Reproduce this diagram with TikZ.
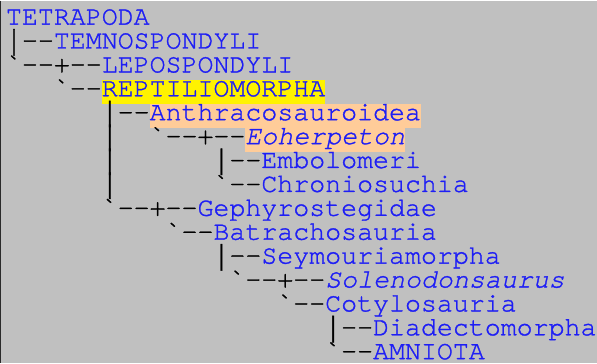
\documentclass[tikz,border=0pt]{standalone}
\usepackage{graphicx}
\usepackage{fontspec}
\setmonofont{texgyrecursor}[Extension=.otf, UprightFont=*-regular, ItalicFont=*-italic, FakeBold=1.2]
\definecolor{bgc}{HTML}{C0C0C0}
\definecolor{bordc}{HTML}{2A2A2A}
\definecolor{labblue}{RGB}{30,30,245}
\definecolor{peach}{HTML}{FFCC99}
\begin{document}
\begin{tikzpicture}[
  every node/.style={inner sep=0pt, outer sep=0pt, anchor=base west,
    font=\ttfamily\fontsize{26.6}{24}\selectfont},
  conn/.style={text=black},
  vb/.style={text=black, anchor=south, yshift=-7pt},
  lab/.style={text=labblue},
  hl/.style={lab, text height=16pt, text depth=7.5pt},
  ital/.style={font=\ttfamily\itshape\fontsize{26.6}{24}\selectfont}
]
\newcommand\vbar{\resizebox*{!}{26.4pt}{|}}
\fill[bgc] (0pt,0pt) rectangle (597pt,-362pt);
\draw[bordc, line width=1.2pt] (0.6pt,0pt) -- (0.6pt,-362pt);
\useasboundingbox (0pt,0pt) rectangle (597pt,-362pt);
\begin{scope}[shift={(6pt,-24pt)}, x=15.96pt, y=-23.9pt]
% line 0
\node[lab] (tetrapoda) at (0,0) {TETRAPODA};
% line 1
\node[vb] (b1) at (0.5,1) {\vbar};
\node[conn] (c1) at (1,1) {--};
\node[lab] (temno) at (3,1) {TEMNOSPONDYLI};
% line 2
\node[conn] (c2) at (0,2) {`--+--};
\node[lab] (lepo) at (6,2) {LEPOSPONDYLI};
% line 3
\node[conn] (c3) at (3,3) {`--};
\node[hl, fill=yellow] (reptilio) at (6,3) {REPTILIOMORPHA};
% line 4
\node[vb] (b4) at (6.5,4) {\vbar};
\node[conn] (c4) at (7,4) {--};
\node[hl, fill=peach] (anthraco) at (9,4) {Anthracosauroidea};
% line 5
\node[vb] (b5) at (6.5,5) {\vbar};
\node[conn] (c5) at (9,5) {`--+--};
\node[hl, ital, fill=peach] (eoherp) at (15,5) {Eoherpeton};
% line 6
\node[vb] (b6a) at (6.5,6) {\vbar};
\node[vb] (b6b) at (13.5,6) {\vbar};
\node[conn] (c6) at (14,6) {--};
\node[lab] (embolo) at (16,6) {Embolomeri};
% line 7
\node[vb] (b7) at (6.5,7) {\vbar};
\node[conn] (c7) at (13,7) {`--};
\node[lab] (chronio) at (16,7) {Chroniosuchia};
% line 8
\node[conn] (c8) at (6,8) {`--+--};
\node[lab] (gephyro) at (12,8) {Gephyrostegidae};
% line 9
\node[conn] (c9) at (10,9) {`--};
\node[lab] (batracho) at (13,9) {Batrachosauria};
% line 10
\node[vb] (b10) at (13.5,10) {\vbar};
\node[conn] (c10) at (14,10) {--};
\node[lab] (seymour) at (16,10) {Seymouriamorpha};
% line 11
\node[conn] (c11) at (14,11) {`--+--};
\node[lab, ital] (soleno) at (20,11) {Solenodonsaurus};
% line 12
\node[conn] (c12) at (17,12) {`--};
\node[lab] (cotylo) at (20,12) {Cotylosauria};
% line 13
\node[vb] (b13) at (20.5,13) {\vbar};
\node[conn] (c13) at (21,13) {--};
\node[lab] (diadecto) at (23,13) {Diadectomorpha};
% line 14
\node[conn] (c14) at (20,14) {`--};
\node[lab] (amniota) at (23,14) {AMNIOTA};
\end{scope}
\end{tikzpicture}
\end{document}
